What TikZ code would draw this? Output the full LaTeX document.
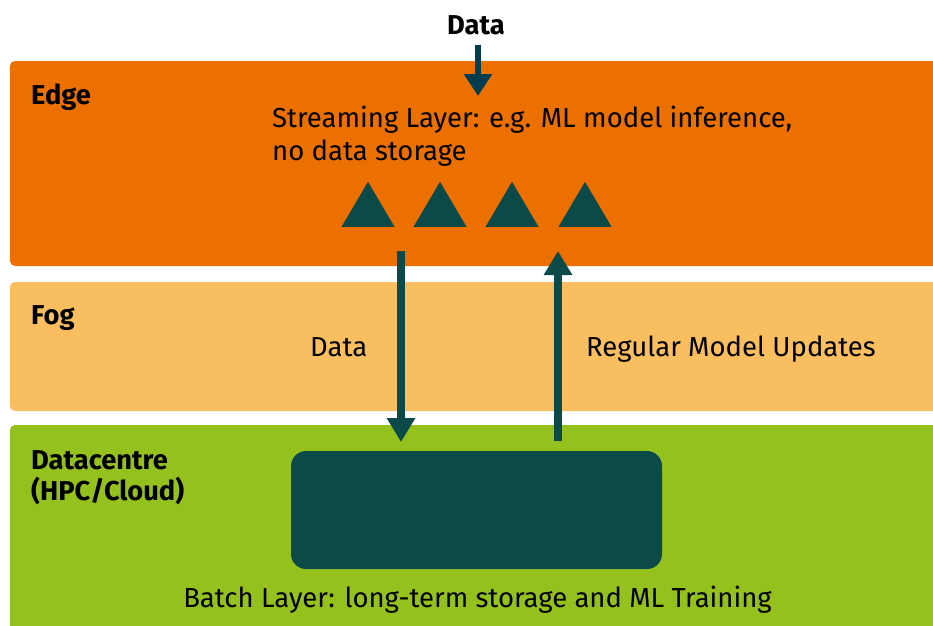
\documentclass[tikz,border=0pt]{standalone}
\usepackage{fontspec}
\setmainfont{Fira Sans}
\usetikzlibrary{arrows.meta,shapes.geometric}
\definecolor{edgeC}{RGB}{236,112,0}
\definecolor{fogC}{RGB}{249,190,95}
\definecolor{dcC}{RGB}{149,193,31}
\definecolor{darkC}{RGB}{11,74,72}
\definecolor{navyC}{RGB}{4,60,80}
\tikzset{
  layer/.style={rounded corners=5pt},
  lbl/.style={anchor=base west,font=\fontsize{27.3}{31.5}\selectfont\bfseries,inner sep=0pt,align=left},
  txt/.style={anchor=base west,font=\fontsize{27.5}{33.5}\selectfont,inner sep=0pt,align=left},
  tri/.style={isosceles triangle,isosceles triangle apex angle=60,shape border rotate=90,fill=darkC,inner sep=0pt,minimum height=45pt,minimum width=53pt,isosceles triangle stretches},
  flow/.style={line width=7.5pt,draw=darkC,-{Triangle[width=27pt,length=24pt]}}
}
\begin{document}
\begin{tikzpicture}[x=1pt,y=-1pt]
\useasboundingbox (0,0) rectangle (933,625);
\fill[white] (0,0) rectangle (933,625);
% layers
\fill[edgeC,layer] (10,61) rectangle (945,266);
\fill[fogC,layer] (10,282) rectangle (945,411);
\fill[dcC,layer] (10,425) rectangle (945,640);
\node[fill=darkC,rounded corners=15pt,minimum width=371pt,minimum height=118pt,inner sep=0pt] (batch) at (476.5,510) {};
% labels
\node[font=\fontsize{27.3}{31.5}\selectfont\bfseries,inner sep=0pt,anchor=base] (din) at (476,34.5) {Data};
\node[lbl] (edge) at (31,104) {Edge};
\node[txt] (stream) at (272,160.8) {Streaming Layer: e.g. ML model inference,\\no data storage};
\node[lbl] (fog) at (31,324) {Fog};
\node[txt] (dlab) at (310,356) {Data};
\node[txt] (rlab) at (586,356) {Regular Model Updates};
\node[lbl] (dc) at (31,500.8) {Datacentre\\(HPC/Cloud)};
\node[txt,anchor=base] (blab) at (477.5,607.3) {Batch Layer: long-term storage and ML Training};
% triangles
\node[tri,anchor=south] (t1) at (368,227) {};
\node[tri,anchor=south] (t2) at (440,227) {};
\node[tri,anchor=south] (t3) at (512,227) {};
\node[tri,anchor=south] (t4) at (585,227) {};
% arrows
\coordinate (inS) at (478,44.5);
\coordinate (inE) at (478,96);
\draw[flow,line width=6.7pt,draw=navyC,-{Triangle[width=27pt,length=22pt]}] (inS) -- (inE);
\coordinate (dS) at (401,251);
\coordinate (dE) at (401,442);
\draw[flow] (dS) -- (dE);
\coordinate (uS) at (558,441);
\coordinate (uE) at (558,251);
\draw[flow] (uS) -- (uE);
\end{tikzpicture}
\end{document}
